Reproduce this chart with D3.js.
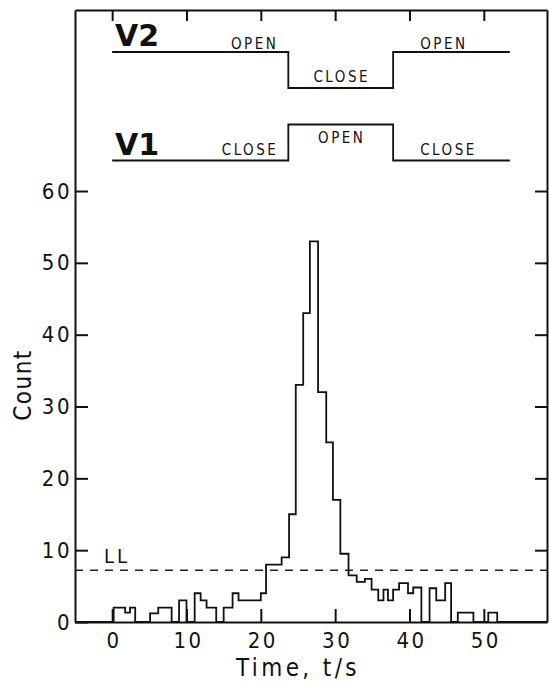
<!DOCTYPE html>
<html>
<head>
<meta charset="utf-8">
<script src="https://cdn.jsdelivr.net/npm/d3@7"></script>
<style>
	body { margin: 0; background: #fff; }
	text { font-family: "DejaVu Sans Condensed", "DejaVu Sans", sans-serif; fill: #111; }
	.axis path, .axis line { stroke: #111; stroke-width: 2; }
</style>
</head>
<body>
<div id="chart"></div>
<script>
// histogram: bin edges (s) and counts between them
const binEdges = [-5, 0.2, 1.75, 2.4, 3.1, 5.1, 6.2, 8.0, 9.0, 10.0, 11.1, 11.9, 12.7, 14.0, 15.0, 16.2, 17.0,
	20.0, 20.7, 22.8, 23.8, 24.7, 25.7, 26.6, 27.7, 28.8, 29.7, 30.7, 31.8, 32.9, 34.0, 34.9, 35.8, 36.5,
	37.1, 37.8, 38.6, 39.8, 40.5, 41.6, 42.7, 43.6, 44.8, 45.6, 46.5, 48.6, 50.6, 51.8, 58.5];
const counts = [0, 2, 1.3, 2, 0, 1.2, 2, 0, 3, 0, 4, 3, 2, 0, 2, 4,
	3, 4, 8, 9, 15, 33, 43, 53, 32, 25, 17, 9.5, 6.5, 5.6, 6, 4.5, 3,
	4.5, 3, 4.5, 5.4, 4, 4.8, 0, 4.7, 3, 5.4, 0, 1.3, 0, 1.3, 0];

const xTicks = [0, 10, 20, 30, 40, 50];
const yTicks = [0, 10, 20, 30, 40, 50, 60];
const llLevel = 7.2;

// valve timing
const valveTimes = [0, 23.7, 37.8, 53.5];
const valveNames = ["V2", "V1"];
const valveStates = {
	V2: ["OPEN", "CLOSE", "OPEN"],
	V1: ["CLOSE", "OPEN", "CLOSE"]
};

const width = 549, height = 682;
const mLeft = 75, mRight = 547, mTop = 10, mBottom = 622;

const svg = d3.select("#chart")
	.append("svg")
	.attr("width", width)
	.attr("height", height);

const x = d3.scaleLinear().domain([-5, 58.5]).range([mLeft, mRight]);
const y = d3.scaleLinear().domain([0, 85.2]).range([mBottom, mTop]);

// frame with inward ticks on all four sides
svg.append("g").attr("class", "axis")
	.attr("transform", "translate(0," + mBottom + ")")
	.call(d3.axisBottom(x).tickValues(xTicks).tickSize(-13).tickSizeOuter(0).tickPadding(10))
	.call(g => g.selectAll("text").attr("font-size", 22).attr("letter-spacing", 2.5).attr("dx", 1.5));

svg.append("g").attr("class", "axis")
	.attr("transform", "translate(0," + mTop + ")")
	.call(d3.axisTop(x).tickValues(xTicks).tickSize(-11).tickSizeOuter(0).tickFormat(""));

svg.append("g").attr("class", "axis")
	.attr("transform", "translate(" + mLeft + ",0)")
	.call(d3.axisLeft(y).tickValues(yTicks).tickSize(-13).tickSizeOuter(0).tickPadding(3))
	.call(g => g.selectAll("text").attr("font-size", 22).attr("letter-spacing", 2.5));

svg.append("g").attr("class", "axis")
	.attr("transform", "translate(" + mRight + ",0)")
	.call(d3.axisRight(y).tickValues(yTicks.slice(1)).tickSize(-12).tickSizeOuter(0).tickFormat(""));

svg.selectAll(".axis text").attr("fill", "#111").style("font-family", "'DejaVu Sans Condensed', 'DejaVu Sans', sans-serif");

// axis titles
svg.append("text")
	.attr("x", 298)
	.attr("y", 676)
	.attr("text-anchor", "middle")
	.attr("font-size", 24)
	.attr("letter-spacing", 3.4)
	.text("Time, t/s");

svg.append("text")
	.attr("transform", "translate(31,385) rotate(-90)")
	.attr("text-anchor", "middle")
	.attr("font-size", 24)
	.attr("letter-spacing", 1.5)
	.text("Count");

// lower limit
svg.append("line")
	.attr("x1", x(-5)).attr("x2", x(58.5))
	.attr("y1", y(llLevel)).attr("y2", y(llLevel))
	.attr("stroke", "#222")
	.attr("stroke-width", 1.4)
	.attr("stroke-dasharray", "8,7");

svg.append("text")
	.attr("x", 104)
	.attr("y", 563)
	.attr("font-size", 20)
	.attr("letter-spacing", 3)
	.text("LL");

// histogram as a step line
const steps = counts.map((c, i) => ({t: binEdges[i], c: c}));
steps.push({t: binEdges[binEdges.length - 1], c: counts[counts.length - 1]});

const line = d3.line()
	.x(d => x(d.t))
	.y(d => y(d.c))
	.curve(d3.curveStepAfter);

svg.append("path")
	.attr("d", line(steps))
	.attr("fill", "none")
	.attr("stroke", "#111")
	.attr("stroke-width", 1.8);

// valve diagrams above the histogram
const closeY = d3.scalePoint().domain(valveNames).range([88, 160.5]);
const swing = 36;

valveNames.forEach(name => {
	const states = valveStates[name];
	const levelY = s => s === "OPEN" ? closeY(name) - swing : closeY(name);
	const pts = states.map((s, i) => ({t: valveTimes[i], s: s}));
	pts.push({t: valveTimes[valveTimes.length - 1], s: states[states.length - 1]});

	svg.append("path")
		.attr("d", d3.line().x(d => x(d.t)).y(d => levelY(d.s)).curve(d3.curveStepAfter)(pts))
		.attr("fill", "none")
		.attr("stroke", "#111")
		.attr("stroke-width", 1.8);

	svg.append("text")
		.attr("x", 115)
		.attr("y", closeY(name) - swing * (name === "V2" ? 1 : 0) - 6)
		.attr("font-weight", "bold")
		.attr("font-size", 30)
		.style("font-family", "'DejaVu Sans', sans-serif")
		.text(name);

	states.forEach((s, i) => {
		const t0 = valveTimes[i], t1 = valveTimes[i + 1];
		// a raised middle block carries its label inside, under the line
		const raised = i === 1 && s === "OPEN";
		const lbl = svg.append("text")
			.attr("font-size", 15)
			.attr("letter-spacing", 2.5)
			.attr("y", raised ? levelY(s) + 18 : levelY(s) - (s === "OPEN" ? 3 : 6))
			.text(s);
		if (i === 0) lbl.attr("x", x(t1) - 10).attr("text-anchor", "end");
		else if (i === 1) lbl.attr("x", x((t0 + t1) / 2) + 1).attr("text-anchor", "middle");
		else lbl.attr("x", x(t0) + 27).attr("text-anchor", "start");
	});
});
</script>
</body>
</html>
